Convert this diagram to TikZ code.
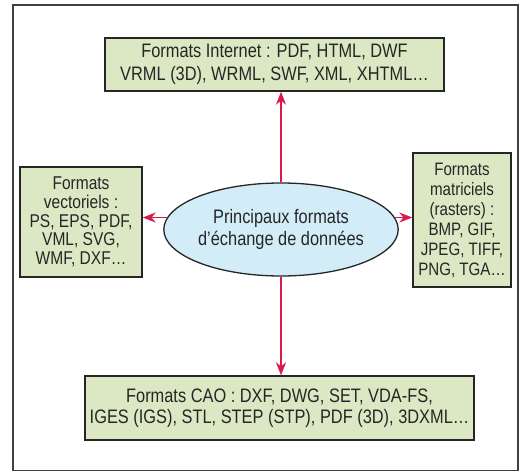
\documentclass[tikz,border=0pt]{standalone}
\usepackage{fontspec}
\setmainfont[FakeStretch=0.84]{Liberation Sans}
\usetikzlibrary{shapes.geometric,arrows.meta}
\definecolor{boxfill}{HTML}{DCE8C3}
\definecolor{ellfill}{HTML}{D3EDF8}
\definecolor{arrcol}{HTML}{D81B4C}
\definecolor{txtcol}{HTML}{262626}
\tikzset{
  fmtbox/.style={draw=black!85, line width=1.3pt, fill=boxfill, rectangle, align=center,
    text=txtcol, inner sep=0pt, font=\fontsize{19.5}{20.5}\selectfont},
  mainell/.style={draw=black!85, line width=1.3pt, fill=ellfill, ellipse, align=center,
    text=txtcol, inner sep=0pt, font=\fontsize{19.5}{22}\selectfont},
  link/.style={draw=arrcol, line width=1.5pt, -{Stealth[length=13pt,width=10pt,inset=4pt]}}
}
\begin{document}
\begin{tikzpicture}[x=1pt,y=1pt]
\useasboundingbox (0,0) rectangle (520,472);
\draw[black!75, line width=1.3pt] (13,1.5) rectangle (518,467);
\node[fmtbox, minimum width=339pt, minimum height=53pt, font=\fontsize{19.5}{22.5}\selectfont] (top) at (274.5,407.5)
  {Formats Internet : PDF, HTML, DWF\\VRML (3D), WRML, SWF, XML, XHTML…};
\node[fmtbox, minimum width=122pt, minimum height=110pt, font=\fontsize{18.5}{18.8}\selectfont] (left) at (81,250)
  {Formats\\vectoriels :\\PS, EPS, PDF,\\VML, SVG,\\WMF, DXF…};
\node[fmtbox, minimum width=98pt, minimum height=134pt, font=\fontsize{18}{20}\selectfont] (right) at (462,252)
  {Formats\\matriciels\\(rasters) :\\BMP, GIF,\\JPEG, TIFF,\\PNG, TGA…};
\node[mainell, minimum width=194pt, minimum height=93pt] (ell) at (281,242.5)
  {Principaux formats\\d’échange de données};
\node[fmtbox, minimum width=389pt, minimum height=64pt] (bot) at (279.5,64)
  {Formats CAO : DXF, DWG, SET, VDA-FS,\\IGES (IGS), STL, STEP (STP), PDF (3D), 3DXML…};
\draw[link] (ell.north) -- (ell.north |- top.south);
\draw[link] (ell.south) -- (ell.south |- bot.north);
\draw[link] (ell.174) -- (ell.174 -| left.east);
\draw[link] (ell.6) -- (ell.6 -| right.west);
\end{tikzpicture}
\end{document}
